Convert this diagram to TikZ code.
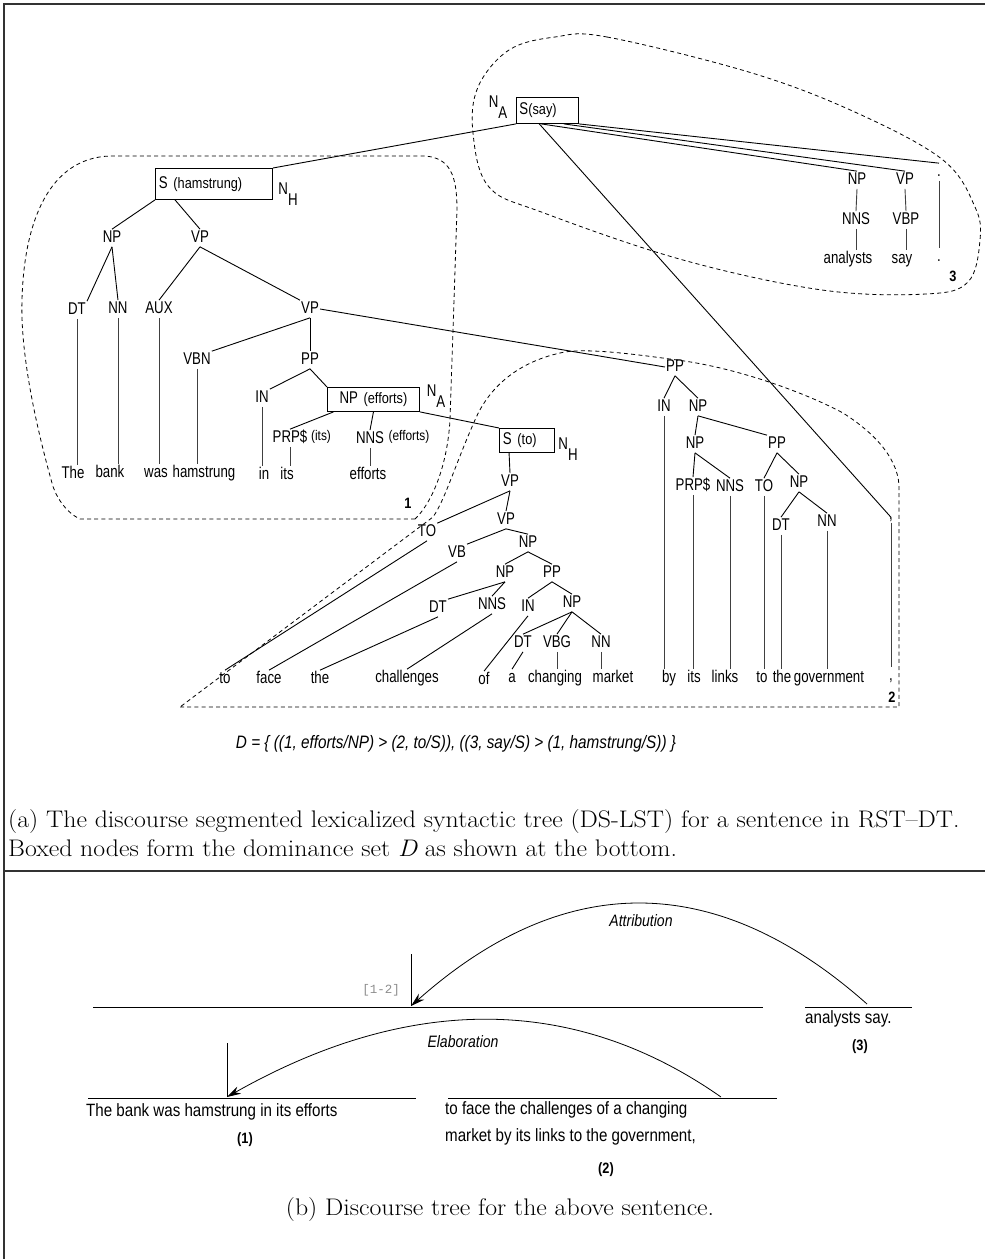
\documentclass[tikz,border=0pt]{standalone}
\usepackage{fontspec}
\newfontfamily\hv[FakeStretch=0.78]{Liberation Sans}
\newfontfamily\hvb[FakeStretch=0.85]{Liberation Sans}
\newfontfamily\mono{Liberation Mono}
\newfontfamily\capfont[FakeStretch=1.075,Ligatures=TeX]{Latin Modern Roman}
\usetikzlibrary{arrows.meta,calc}
\newcommand\NX[2]{#1\raisebox{-0.68em}{#2}}
\newcommand\smpar[1]{{\hvb\fontsize{15}{17}\selectfont #1}}
\begin{document}
\begin{tikzpicture}[x=1pt,y=-1pt,
 lab/.style={font=\hv\fontsize{17}{19}\selectfont, inner sep=1pt, text height=12.3pt, text depth=3pt},
 tightlab/.style={font=\hv\fontsize{17}{19}\selectfont, inner sep=0.5pt},
 sublab/.style={font=\hv\fontsize{17}{19}\selectfont, inner sep=0pt},
 smlab/.style={font=\hvb\fontsize{14}{16}\selectfont, inner sep=1pt, text height=10.5pt, text depth=3pt},
 numlab/.style={font=\hvb\bfseries\fontsize{15}{17}\selectfont, inner sep=1pt},
 boxnode/.style={draw, line width=0.9pt, anchor=north west, inner ysep=0pt, align=left, font=\hv\fontsize{17}{19}\selectfont},
 edgeline/.style={line width=0.9pt},
 wordline/.style={line width=0.9pt, black!75},
 region/.style={dash pattern=on 4pt off 3.2pt, line width=0.8pt},
 btxt/.style={font=\hvb\fontsize{17.8}{20}\selectfont, inner sep=0pt, anchor=west},
 itlab/.style={font=\hvb\itshape\fontsize{16.5}{18}\selectfont, inner sep=1pt},
 captxt/.style={font=\capfont\fontsize{24}{28}\selectfont, inner sep=0pt, anchor=west},
 frameline/.style={line width=1.4pt, black!80},
 relarrow/.style={line width=0.8pt, -{Stealth[length=14pt,width=8pt]}},
 segline/.style={line width=1pt},
]
\useasboundingbox (0,0) rectangle (985,1259);
% frame
\draw[frameline] (4,1259) -- (4,4) -- (985,4);
\draw[frameline] (4,871) -- (985,871);

% ---------- dashed regions
\draw[region] (415,519) -- (80,519) .. controls (65,512) and (55,495) .. (52,483)
  .. controls (40,440) and (20,360) .. (22,300) .. controls (24,220) and (50,158) .. (110,156)
  -- (425,156) .. controls (450,158) and (457,175) .. (457,210) -- (450,420)
  .. controls (447,470) and (430,505) .. (415,519);
\draw[region] (180,707) -- (899,707) -- (899,485) .. controls (897,455) and (870,430) .. (843,413)
  .. controls (810,395) and (740,368) .. (677,360) .. controls (620,352) and (580,348) .. (560,353)
  .. controls (520,362) and (490,385) .. (475,420) .. controls (455,465) and (445,500) .. (433,517) -- cycle;
\draw[region] plot[smooth cycle, tension=0.6] coordinates {(555,37) (607,37) (752,73) (857,113) (943,160) (975,207) (980,240) (968,282) (926,294) (822,290) (683,260) (544,213) (489,187) (473,133) (478,87) (509,50)};

% ---------- boxed nodes
\node[boxnode, minimum width=117pt, minimum height=31pt, text width=110pt, inner xsep=3.5pt] (sh) at (155,168) {S \smpar{(hamstrung)}};
\node[boxnode, minimum width=62pt, minimum height=26pt, text width=56pt, inner xsep=3pt] (ssay) at (516,97) {S\smpar{(say)}};
\node[boxnode, minimum height=24pt, text width=84pt, inner xsep=4pt, align=center] (npe) at (327,387) {NP \smpar{(efforts)}};
\node[boxnode, minimum height=24pt, text width=48pt, inner xsep=3.5pt] (st) at (499,428) {S \smpar{(to)}};
\node[sublab] (na1) at (498,107) {\NX{N}{A}};
\node[sublab] (nh1) at (288,194) {\NX{N}{H}};
\node[sublab] (na2) at (436,396) {\NX{N}{A}};
\node[sublab] (nh2) at (568,449) {\NX{N}{H}};

% ---------- segment 3
\node[lab] (np9) at (857,180) {NP};
\node[lab] (vp9) at (905,180) {VP};
\node[lab] (pd9) at (939,172) {.};
\node[lab] (nns9) at (856,220) {NNS};
\node[lab] (vbp9) at (906,220) {VBP};
\node[lab] (wan) at (848,259) {analysts};
\node[lab] (wsay) at (902,259) {say};
\node[lab] (wdot) at (939,257) {.};
\node[numlab] (n3) at (953,276) {3};

% ---------- segment 1
\node[lab] (np1) at (112,238) {NP};
\node[lab] (vp1) at (200,238) {VP};
\node[lab] (dt1) at (77,310) {DT};
\node[lab] (nn1) at (118,309) {NN};
\node[lab] (aux) at (159,309) {AUX};
\node[lab] (vp2) at (310,309) {VP};
\node[lab] (vbn) at (197,360) {VBN};
\node[lab] (pp1) at (310,360) {PP};
\node[lab] (in1) at (262,398) {IN};
\node[lab] (prp1) at (290,438) {PRP\$};
\node[smlab] (prpx) at (321,437) {(its)};
\node[lab] (nns1) at (370,439) {NNS};
\node[smlab] (nnsx) at (409,437) {(efforts)};
\node[lab] (wthe) at (73,474) {The};
\node[lab] (wbank) at (110,473) {bank};
\node[lab] (wwas) at (156,473) {was};
\node[lab] (wham) at (204,473) {hamstrung};
\node[lab] (win) at (264,475) {in};
\node[lab] (wits) at (287,475) {its};
\node[lab] (weff) at (368,475) {efforts};
\node[numlab] (n1) at (408,503) {1};

% ---------- segment 2
\node[lab] (vp3) at (510,482) {VP};
\node[lab] (vp4) at (506,520) {VP};
\node[lab] (to1) at (427,532) {TO};
\node[lab] (vb) at (457,553) {VB};
\node[lab] (np3) at (528,543) {NP};
\node[lab] (np4) at (505,573) {NP};
\node[lab] (pp2) at (552,573) {PP};
\node[lab] (dt2) at (438,608) {DT};
\node[lab] (nns2) at (492,605) {NNS};
\node[lab] (in2) at (528,607) {IN};
\node[lab] (np5) at (572,603) {NP};
\node[lab] (dt3) at (523,643) {DT};
\node[lab] (vbg) at (557,643) {VBG};
\node[lab] (nn3) at (601,643) {NN};
\node[lab] (wto) at (225,679) {to};
\node[lab] (wface) at (269,679) {face};
\node[lab] (wthe2) at (320,679) {the};
\node[lab] (wchal) at (407,678) {challenges};
\node[lab] (wof) at (484,680) {of};
\node[lab] (wa) at (512,678) {a};
\node[lab] (wchg) at (555,678) {changing};
\node[lab] (wmkt) at (613,678) {market};
\node[lab] (pp3) at (675,367) {PP};
\node[lab] (in3) at (664,407) {IN};
\node[lab] (np6) at (698,407) {NP};
\node[lab] (np7) at (695,444) {NP};
\node[lab] (pp4) at (777,444) {PP};
\node[lab] (prp2) at (693,486) {PRP\$};
\node[lab] (nns3) at (730,487) {NNS};
\node[lab] (to2) at (764,487) {TO};
\node[lab] (np8) at (799,483) {NP};
\node[lab] (dt4) at (781,526) {DT};
\node[lab] (nn4) at (827,522) {NN};
\node[tightlab] (ctag) at (891,520) {,};
\node[lab] (wby) at (669,678) {by};
\node[lab] (wits2) at (694,678) {its};
\node[lab] (wlinks) at (725,678) {links};
\node[lab] (wto2) at (762,678) {to};
\node[lab] (wthe3) at (782,678) {the};
\node[lab] (wgov) at (829,678) {government};
\node[lab] (wcomma) at (891,676) {,};
\node[numlab] (n2) at (892,697) {2};

% ---------- edges
\draw[edgeline] (sh.north east) -- (ssay.south west);
\draw[edgeline] ($(ssay.south west)!0.4!(ssay.south east)$) -- (np9.north);
\draw[edgeline] ($(ssay.south west)!0.76!(ssay.south east)$) -- (vp9.north);
\draw[edgeline] (ssay.south east) -- (pd9.north);
\draw[edgeline] ($(ssay.south west)!0.37!(ssay.south east)$) -- (ctag.north);
\draw[wordline] (np9.south) -- (nns9.north);
\draw[wordline] (vp9.south) -- (vbp9.north);
\draw[wordline] (nns9.south) -- (nns9.south |- wan.north);
\draw[wordline] (vbp9.south) -- (vbp9.south |- wsay.north);
\draw[wordline] (pd9.south) -- (pd9.south |- wdot.north);

\draw[edgeline] (sh.south west) -- (np1.north);
\draw[edgeline] ($(sh.south west)!0.17!(sh.south east)$) -- (vp1.north);
\draw[edgeline] (np1.south) -- (dt1.north east);
\draw[edgeline] (np1.south) -- (nn1.north);
\draw[edgeline] (vp1.south) -- (aux.north);
\draw[edgeline] (vp1.south) -- (vp2.north west);
\draw[wordline] (dt1.south) -- (dt1.south |- wthe.north);
\draw[wordline] (nn1.south) -- (nn1.south |- wbank.north);
\draw[wordline] (aux.south) -- (aux.south |- wwas.north);
\draw[edgeline] (vp2.south) -- (vbn.north east);
\draw[edgeline] (vp2.south) -- (pp1.north);
\draw[wordline] (vbn.south) -- (vbn.south |- wham.north);
\draw[edgeline] (pp1.south) -- (in1.north east);
\draw[edgeline] (pp1.south) -- (npe.north west);
\draw[wordline] (in1.south) -- (in1.south |- win.north);
\draw[edgeline] ($(npe.south west)!0.07!(npe.south east)$) -- (prp1.north);
\draw[edgeline] (npe.south) -- (nns1.north);
\draw[wordline] (prp1.south) -- (prp1.south |- wits.north);
\draw[wordline] (nns1.south) -- (nns1.south |- weff.north);
\draw[edgeline] (npe.south east) -- (st.north west);
\draw[edgeline] (vp2.east) -- (pp3.west);

\draw[edgeline] ($(st.south west)!0.18!(st.south east)$) -- (vp3.north);
\draw[edgeline] (vp3.south) -- (to1.north east);
\draw[edgeline] (vp3.south) -- (vp4.north);
\draw[edgeline] (vp4.south) -- (vb.north east);
\draw[edgeline] (vp4.south) -- (np3.north);
\draw[edgeline] (np3.south) -- (np4.north);
\draw[edgeline] (np3.south) -- (pp2.north);
\draw[edgeline] (np4.south) -- (dt2.north east);
\draw[edgeline] (np4.south) -- (nns2.north);
\draw[edgeline] (pp2.south) -- (in2.north);
\draw[edgeline] (pp2.south) -- (np5.north);
\draw[edgeline] (np5.south) -- (dt3.north);
\draw[edgeline] (np5.south) -- (vbg.north);
\draw[edgeline] (np5.south) -- (nn3.north);
\draw[edgeline] (to1.south) -- (wto.north);
\draw[edgeline] (vb.south) -- (wface.north);
\draw[edgeline] (dt2.south) -- (wthe2.north);
\draw[edgeline] (nns2.south) -- (wchal.north);
\draw[edgeline] (in2.south) -- (wof.north);
\draw[edgeline] (dt3.south) -- (wa.north);
\draw[wordline] (vbg.south) -- (vbg.south |- wchg.north);
\draw[wordline] (nn3.south) -- (nn3.south |- wmkt.north);

\draw[edgeline] (pp3.south) -- (in3.north);
\draw[edgeline] (pp3.south) -- (np6.north);
\draw[edgeline] (np6.south) -- (np7.north);
\draw[edgeline] (np6.south) -- (pp4.north west);
\draw[edgeline] (np7.south) -- (prp2.north);
\draw[edgeline] (np7.south) -- (nns3.north);
\draw[edgeline] (pp4.south) -- (to2.north);
\draw[edgeline] (pp4.south) -- (np8.north);
\draw[edgeline] (np8.south) -- (dt4.north);
\draw[edgeline] (np8.south) -- (nn4.north);
\draw[wordline] (in3.south) -- (in3.south |- wby.north);
\draw[wordline] (prp2.south) -- (prp2.south |- wits2.north);
\draw[wordline] (nns3.south) -- (nns3.south |- wlinks.north);
\draw[wordline] (to2.south) -- (to2.south |- wto2.north);
\draw[wordline] (dt4.south) -- (dt4.south |- wthe3.north);
\draw[wordline] (nn4.south) -- (nn4.south |- wgov.north);
\draw[wordline] (ctag.south) -- (ctag.south |- wcomma.north);

% ---------- dominance set and caption (a)
\node[font=\hvb\itshape\fontsize{18}{20}\selectfont, inner sep=0pt] (dset) at (456,744) {D = \{ ((1, efforts/NP) > (2, to/S)), ((3, say/S) > (1, hamstrung/S)) \}};
\node[captxt] (capa1) at (8,821) {(a) The discourse segmented lexicalized syntactic tree (DS-LST) for a sentence in RST–DT.};
\node[captxt] (capa2) at (8,848) {Boxed nodes form the dominance set {\itshape D} as shown at the bottom.};

% ---------- discourse tree (b)
\coordinate (l0a) at (93,1007);
\coordinate (l0b) at (763,1007);
\coordinate (l3a) at (805,1007);
\coordinate (l3b) at (912,1007);
\coordinate (l1a) at (88,1098);
\coordinate (l1b) at (416,1098);
\coordinate (l2a) at (448,1098);
\coordinate (l2b) at (777,1098);
\draw[segline] (l0a) -- (l0b);
\draw[segline] (l3a) -- (l3b);
\draw[segline] (l1a) -- (l1b);
\draw[segline] (l2a) -- (l2b);
\coordinate (t12) at (411,1006);
\coordinate (t12top) at (411,954);
\coordinate (t1) at (227,1097);
\coordinate (t1top) at (227,1043);
\coordinate (s3) at (867,1004);
\coordinate (s2) at (721,1097);
\draw[line width=0.8pt] (t12top) -- (t12);
\draw[line width=0.8pt] (t1top) -- (t1);
\draw[relarrow] (s3) .. controls (715,869) and (563,871) .. (t12);
\draw[relarrow] (s2) .. controls (574,994) and (409,994) .. (t1);
\node[itlab] (attr) at (641,921) {Attribution};
\node[itlab] (elab) at (463,1042) {Elaboration};
\node[font=\mono\fontsize{12.5}{14}\selectfont, text=black!45, inner sep=0pt] (br) at (381,990) {[1-2]};
\node[btxt] (tsay) at (805,1019) {analysts say.};
\node[numlab] (lab3) at (860,1047) {(3)};
\node[btxt] (tbank) at (86,1112) {The bank was hamstrung in its efforts};
\node[numlab] (lab1) at (245,1140) {(1)};
\node[btxt] (tface) at (445,1110) {to face the challenges of a changing};
\node[btxt] (tmkt) at (445,1137) {market by its links to the government,};
\node[numlab] (lab2) at (606,1170) {(2)};
\node[font=\capfont\fontsize{24}{28}\selectfont, inner sep=0pt] (capb) at (500,1209) {(b) Discourse tree for the above sentence.};
\end{tikzpicture}
\end{document}
